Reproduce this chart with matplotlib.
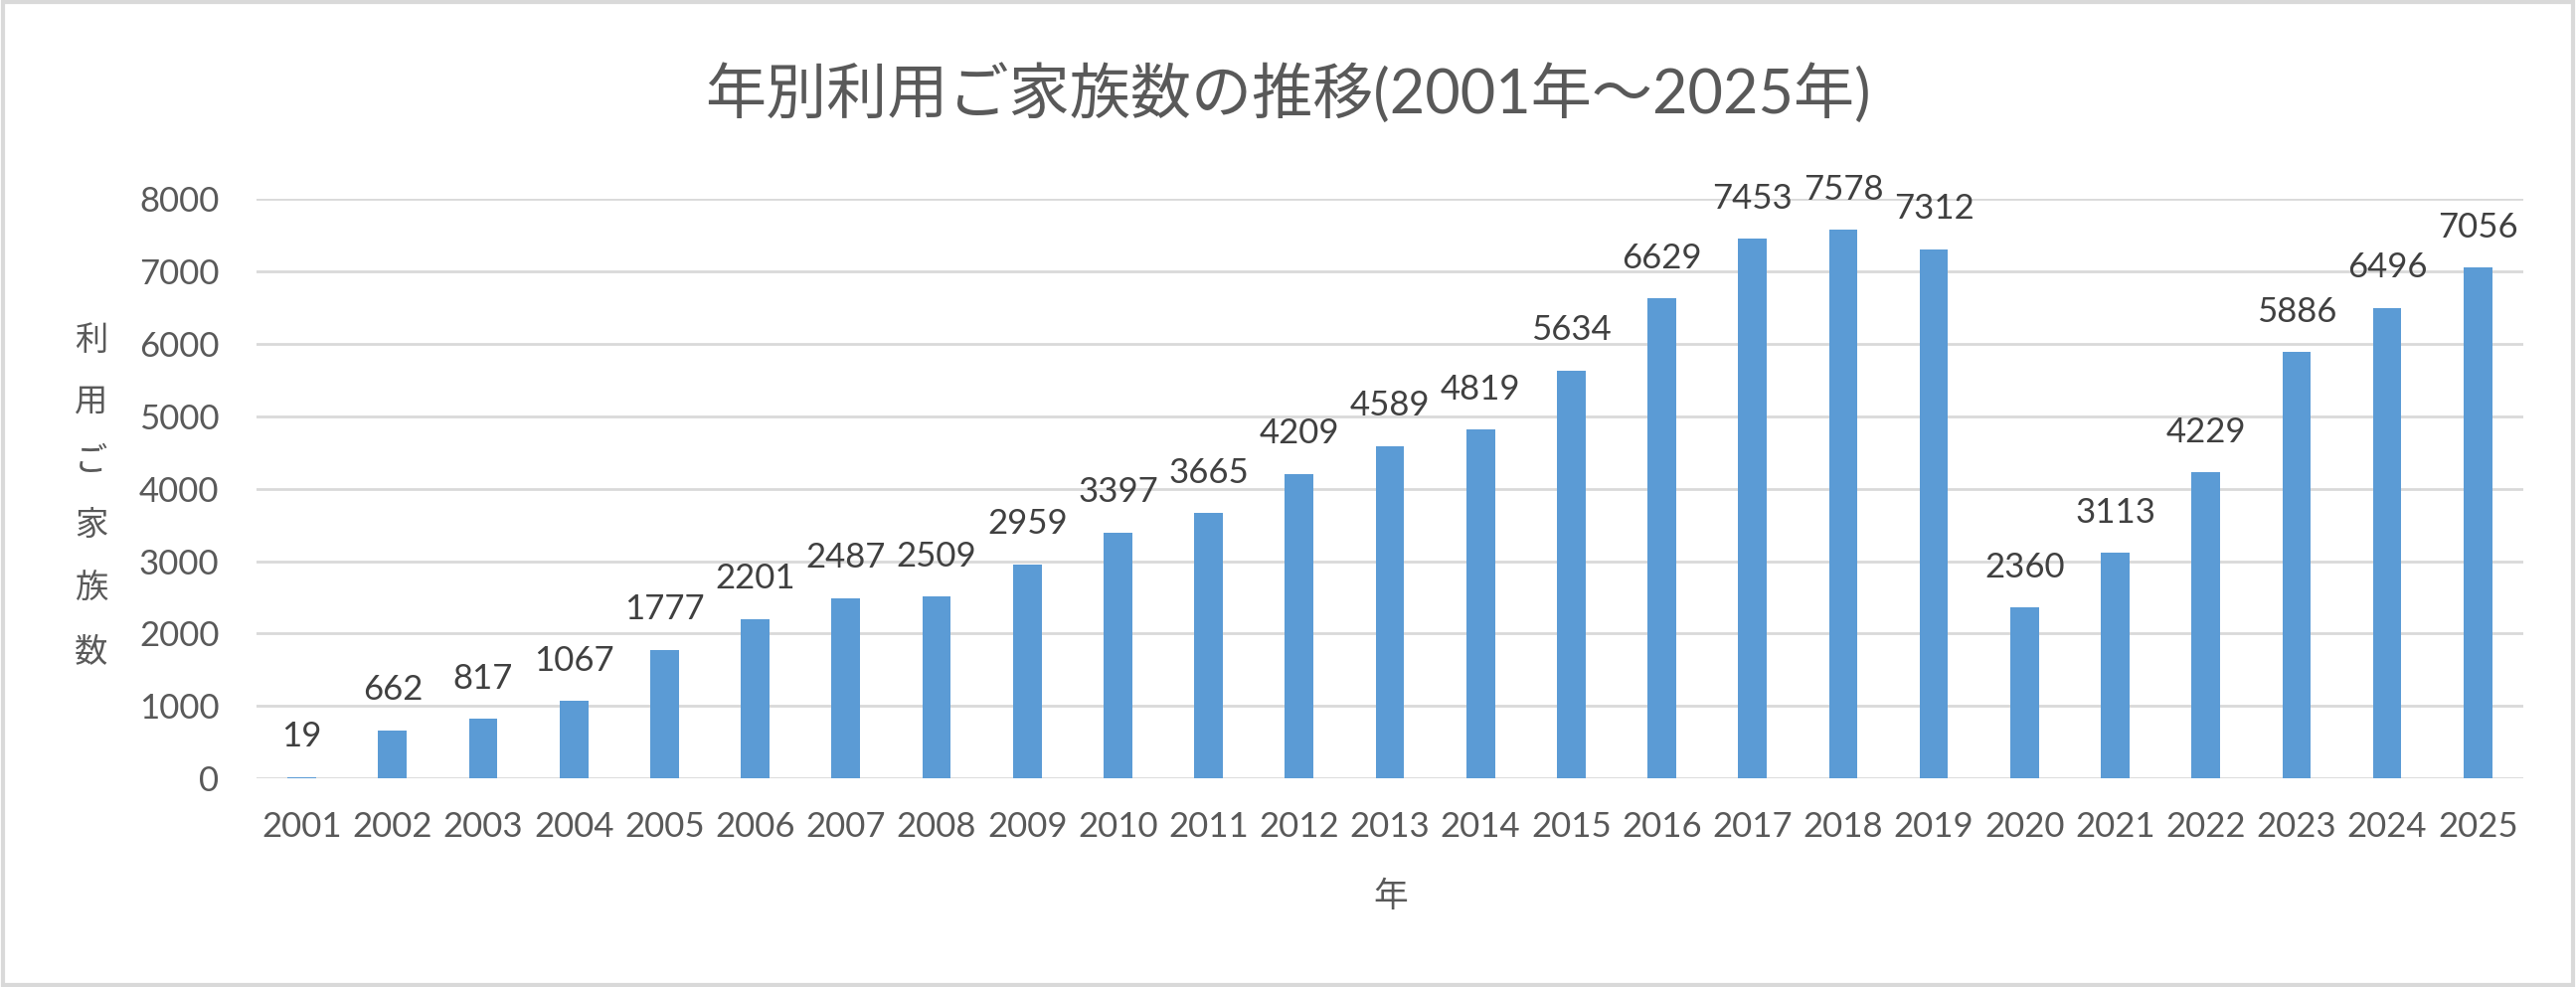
import matplotlib
matplotlib.use('agg')
import matplotlib.pyplot as plt
from matplotlib.patches import Rectangle

plt.rcParams['font.family'] = ['Lato', 'Noto Sans CJK JP', 'DejaVu Sans']

years = [str(y) for y in range(2001, 2026)]
families = [19, 662, 817, 1067, 1777, 2201, 2487, 2509, 2959, 3397, 3665, 4209,
            4589, 4819, 5634, 6629, 7453, 7578, 7312, 2360, 3113, 4229, 5886,
            6496, 7056]
y_ticks = list(range(0, 8001, 1000))

title = '年別利用ご家族数の推移(2001年～2025年)'
x_title = '年'
y_title = '利用ご家族数'

bar_color = '#5B9BD5'
grid_color = '#D9D9D9'
text_color = '#595959'
label_color = '#404040'

fig = plt.figure(figsize=(25.91, 9.93), dpi=100)
ax = fig.add_axes([0.0996, 0.2115, 0.8799, 0.5866])

x = range(len(years))
bars = ax.bar(x, families, width=0.315, color=bar_color, zorder=3)

for xi, v in zip(x, families):
    ax.annotate(str(v), (xi, v), xytext=(0, 22), textcoords='offset points',
                ha='center', va='baseline', fontsize=25, color=label_color)

ax.set_xlim(-0.5, len(years) - 0.5)
ax.set_ylim(0, 8000)
ax.set_yticks(y_ticks)
ax.set_xticks(list(x))
ax.set_xticklabels(years)
ax.yaxis.grid(True, color=grid_color, linewidth=2.0, zorder=0)
ax.set_axisbelow(True)
for s in ax.spines.values():
    s.set_visible(False)
ax.tick_params(axis='both', length=0, labelsize=25, labelcolor=text_color)
ax.tick_params(axis='y', pad=27)
ax.tick_params(axis='x', pad=24)

fig.text(0.5, 1 - 94 / 993, title, ha='center', va='center', fontsize=44,
         color=text_color)
fig.text(1399 / 2591, 1 - 902 / 993, x_title, ha='center', va='center',
         fontsize=25, color=text_color)
fig.text(92 / 2591, 1 - 499 / 993, '\n'.join(y_title), ha='center', va='center',
         fontsize=24, color=text_color, linespacing=2.3)

fig.patches.append(Rectangle((0.001, 0.002), 0.998, 0.996, transform=fig.transFigure,
                             fill=False, edgecolor=grid_color, linewidth=3))

fig.savefig('out.png', dpi=100, facecolor='white')
